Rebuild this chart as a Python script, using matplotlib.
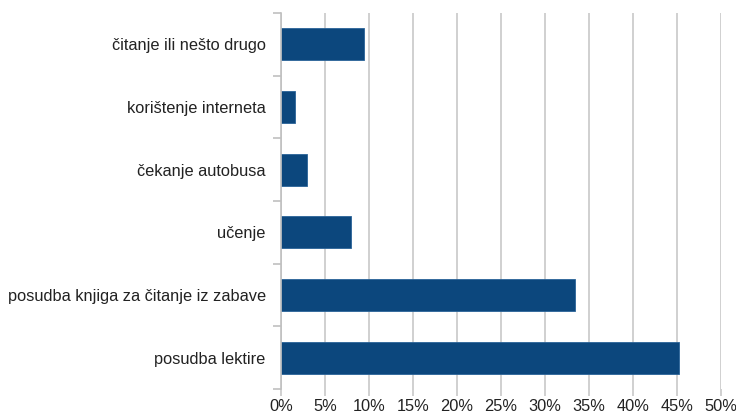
import matplotlib.pyplot as plt
from matplotlib.ticker import PercentFormatter

plt.rcParams['font.family'] = ['Liberation Sans', 'DejaVu Sans']

categories = ['posudba lektire', 'posudba knjiga za čitanje iz zabave', 'učenje',
              'čekanje autobusa', 'korištenje interneta', 'čitanje ili nešto drugo']
values = [45.2, 33.4, 7.9, 3.0, 1.6, 9.4]

fig = plt.figure(figsize=(7.36, 4.16), dpi=100)
ax = fig.add_axes([281 / 736, 1 - 389 / 416, 440 / 736, 376 / 416])

pos = range(len(categories))
ax.barh(pos, values, height=0.51, color='#0c477d', edgecolor='#2a6398', linewidth=0.6, zorder=3)

ax.set_xlim(0, 50)
ax.set_ylim(-0.5, len(categories) - 0.5)
ax.set_xticks(range(0, 51, 5))
ax.xaxis.set_major_formatter(PercentFormatter(decimals=0))
ax.set_yticks(list(pos))
ax.set_yticklabels(categories)
ax.set_yticks([i - 0.5 for i in range(len(categories) + 1)], minor=True)

ax.grid(axis='x', color='#c8c8c8', linewidth=1.2, zorder=0)
for s in ['top', 'right', 'bottom']:
    ax.spines[s].set_visible(False)
ax.spines['left'].set_color('#c0c0c0')
ax.spines['left'].set_linewidth(1.2)
ax.spines['left'].set_zorder(4)

ax.tick_params(axis='y', which='major', length=0, pad=11, labelsize=11.8, labelcolor='#222222')
ax.tick_params(axis='y', which='minor', length=6, color='#c0c0c0', width=1.2)
ax.tick_params(axis='x', length=5, color='#c8c8c8', width=1.2, pad=2, labelsize=11.8, labelcolor='#222222')

fig.savefig('out.png', dpi=100)
